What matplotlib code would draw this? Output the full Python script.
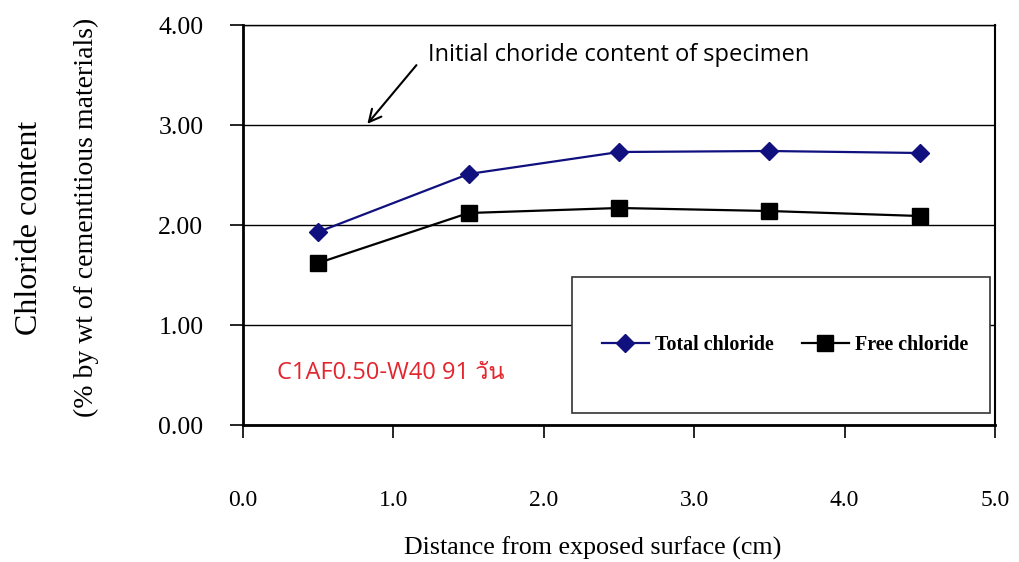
import matplotlib
matplotlib.use("Agg")
import matplotlib.pyplot as plt
from matplotlib import font_manager
from matplotlib.ft2font import FT2Font
from matplotlib.patches import Rectangle

# data
distance = [0.5, 1.5, 2.5, 3.5, 4.5]
total_chloride = [1.93, 2.51, 2.73, 2.74, 2.72]
free_chloride = [1.62, 2.12, 2.17, 2.14, 2.09]
xticks = [0.0, 1.0, 2.0, 3.0, 4.0, 5.0]
yticks = [0.0, 1.0, 2.0, 3.0, 4.0]


def thai_family():
    # find any installed font that has Thai glyphs
    for f in font_manager.fontManager.ttflist:
        try:
            if FT2Font(f.fname).get_char_index(ord("ว")):
                return f.name
        except Exception:
            pass
    return "DejaVu Sans"


serif = "Liberation Serif"
plt.rcParams["font.family"] = serif

fig = plt.figure(figsize=(10.19, 5.62), dpi=100)
ax = fig.add_axes([243 / 1019, 137 / 562, 752 / 1019, 400 / 562])

ax.plot(distance, total_chloride, color="#10107e", lw=1.6, marker="D",
        markersize=9.5, label="Total chloride", zorder=3)
ax.plot(distance, free_chloride, color="black", lw=1.6, marker="s",
        markersize=11, label="Free chloride", zorder=3)

ax.set_xlim(0, 5)
ax.set_ylim(0, 4)
ax.set_xticks(xticks)
ax.set_xticklabels([f"{v:.1f}" for v in xticks])
ax.set_yticks(yticks)
ax.set_yticklabels([f"{v:.2f}" for v in yticks])
ax.tick_params(axis="x", direction="out", length=9, width=1.2, pad=38,
               labelsize=17, colors="black")
ax.tick_params(axis="y", direction="out", length=9.5, width=1.2, pad=19,
               labelsize=18.5, colors="black")
ax.yaxis.grid(True, color="black", lw=1.0)
ax.set_axisbelow(True)

for side in ("left", "bottom"):
    ax.spines[side].set_linewidth(2)
ax.spines["right"].set_linewidth(1.5)
ax.spines["top"].set_linewidth(1.0)

# legend box
ax.add_patch(Rectangle((0.4375, 0.03), 0.5555, 0.34, transform=ax.transAxes,
                       fill=True, facecolor="white", edgecolor="#333333",
                       lw=1.2, zorder=2))
ax.legend(loc="center", bbox_to_anchor=(0.7207, 0.2), ncol=2, frameon=False,
          prop={"family": serif, "weight": "bold", "size": 14.4},
          handlelength=2.35, handletextpad=0.3, columnspacing=1.4)

ax.text(0.045, 0.13, "C1AF0.50-W40 91 วัน", transform=ax.transAxes,
        color="#e3262e", fontsize=17, va="center", ha="left",
        family=["Open Sans", thai_family(), "DejaVu Sans"])

ax.annotate("", xy=(0.815, 2.99), xytext=(1.165, 3.62),
            arrowprops=dict(arrowstyle="->", color="black", lw=1.5,
                            mutation_scale=22))
ax.text(1.23, 3.7, "Initial choride content of specimen", fontsize=17,
        family=["Open Sans", "DejaVu Sans"], va="center", ha="left")

fig.text(30 / 1019, 1 - 228 / 562, "Chloride content", rotation=90,
         ha="center", va="center", fontsize=23)
fig.text(86 / 1019, 1 - 217 / 562, "(% by wt of cementitious materials)",
         rotation=90, ha="center", va="center", fontsize=20)
fig.text(593 / 1019, 1 - 548 / 562, "Distance from exposed surface (cm)",
         ha="center", va="center", fontsize=18.7)

fig.savefig("out.png", dpi=100)
